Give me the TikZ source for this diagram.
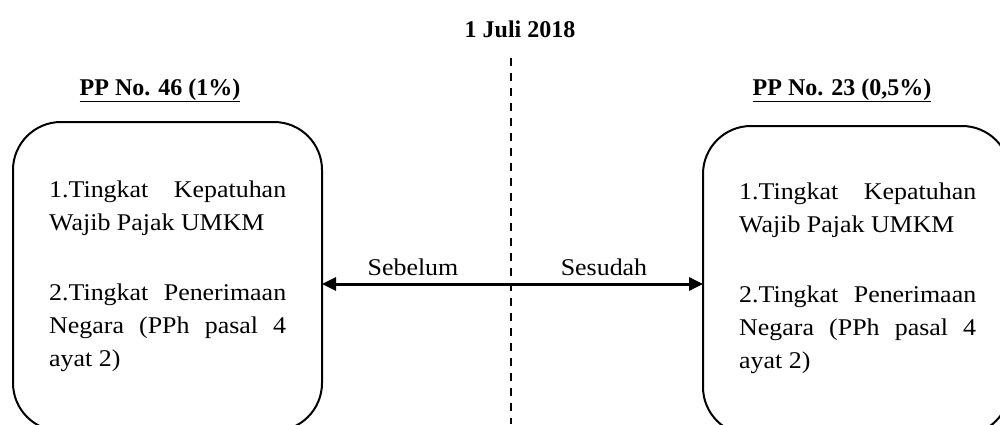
\documentclass[tikz,border=0pt]{standalone}
\usepackage{fontspec}
\setmainfont{Liberation Serif}
\newfontfamily\bodyfont{Liberation Serif}[FakeStretch=1.08]
\usetikzlibrary{arrows.meta}
\begin{document}
\begin{tikzpicture}[x=1pt,y=-1pt,
  boxnode/.style={draw, line width=2pt, rounded corners=48pt, inner sep=0pt, outer sep=0pt},
  txt/.style={font=\bodyfont\fontsize{24}{33}\selectfont, text width=237pt, align=justify, inner sep=0pt, anchor=north west},
  lbl/.style={font=\bodyfont\fontsize{24}{29}\selectfont, inner sep=0pt, anchor=base},
  hdr/.style={font=\fontsize{24}{29}\selectfont\bfseries, inner sep=0pt, anchor=base},
  biarrow/.style={line width=3pt, {Triangle[length=14pt,width=13pt]}-{Triangle[length=14pt,width=13pt]}},
  divider/.style={line width=1.5pt, dash pattern=on 8pt off 7pt}
]
\useasboundingbox (0,0) rectangle (1000,424);
\clip (0,0) rectangle (1000,424);
\fill[white] (0,0) rectangle (1000,424);

\node[boxnode, minimum width=309pt, minimum height=309pt] (L) at (167.5,276.5) {};
\node[boxnode, minimum width=307pt, minimum height=309pt] (R) at (856.5,280.5) {};

\node[hdr] (hl) at (160,95) {\underline{PP No. 46 (1\%)}};
\node[hdr] (hr) at (842,95) {\underline{PP No. 23 (0,5\%)}};
\node[hdr] (title) at (520,37) {1 Juli 2018};

\node[txt] (lt) at (49,180.6) {1.Tingkat Kepatuhan Wajib Pajak UMKM\par\vspace{37pt}2.Tingkat Penerimaan Negara (PPh pasal 4 ayat 2)};
\node[txt] (rt) at (739,182.6) {1.Tingkat Kepatuhan Wajib Pajak UMKM\par\vspace{37pt}2.Tingkat Penerimaan Negara (PPh pasal 4 ayat 2)};

\coordinate (dtop) at (511,58);
\coordinate (dbot) at (511,424);
\coordinate (mid) at (511,284);

\draw[biarrow] (L.east |- mid) -- (R.west |- mid);
\draw[divider] (dtop) -- (dbot);

\node[lbl] (seb) at (413,275) {Sebelum};
\node[lbl] (ses) at (604,275) {Sesudah};
\end{tikzpicture}
\end{document}
